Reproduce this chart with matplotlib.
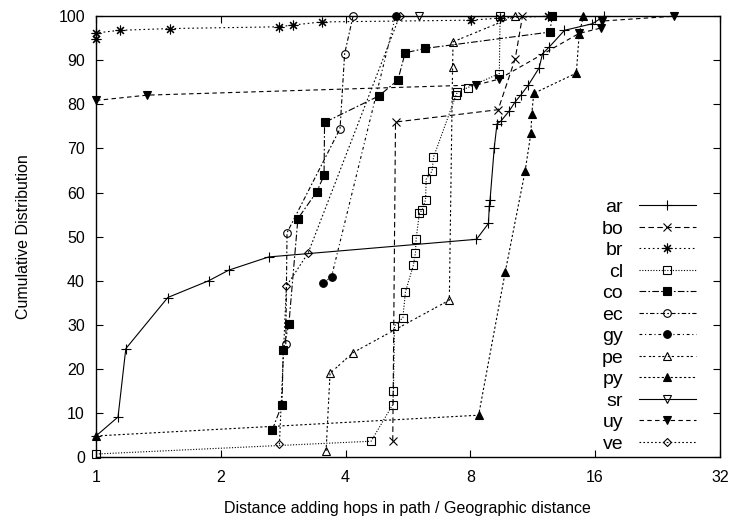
#!/usr/bin/env python3
"""
Cumulative distribution of the path stretch (hops distance / geographic distance)
per country, drawn on a log2 x axis.
"""

import matplotlib
matplotlib.use("Agg")
import matplotlib.pyplot as plt
from matplotlib.ticker import FixedLocator, FixedFormatter, NullLocator

plt.rcParams['font.family'] = ['Liberation Sans', 'DejaVu Sans']

# --- data: stretch ratio (x) vs cumulative % of paths (y) ---
ar_x = [1.0, 1.13, 1.18, 1.49, 1.87, 2.09, 2.61, 8.28, 8.85, 8.89, 8.93, 9.14,
        9.28, 9.48, 9.93, 10.27, 10.61, 11.05, 11.73, 11.95, 12.4, 13.5, 15.77, 16.82]
ar_y = [4.8, 9.1, 24.6, 36.2, 40.0, 42.4, 45.4, 49.4, 53.0, 57.0, 58.4, 70.2,
        75.6, 76.2, 78.5, 80.6, 82.2, 84.4, 88.3, 91.5, 93.0, 96.8, 98.3, 100.0]

bo_x = [5.2, 5.28, 9.34, 10.27, 10.69]
bo_y = [3.7, 76.0, 78.8, 90.4, 100.0]

br_x = [1.0, 1.0, 1.14, 1.51, 2.76, 2.99, 3.5, 8.03, 9.45, 12.35]
br_y = [94.9, 96.2, 96.8, 97.2, 97.6, 98.0, 98.7, 99.1, 99.6, 100.0]

cl_x = [1.0, 4.61, 5.2, 5.22, 5.25, 5.5, 5.58, 5.83, 5.9, 5.92, 6.03, 6.12,
        6.24, 6.26, 6.47, 6.52, 7.39, 7.45, 7.88, 9.4, 9.44]
cl_y = [0.7, 3.6, 11.9, 15.0, 29.8, 31.6, 37.5, 43.5, 46.4, 49.4, 55.4, 56.0,
        58.4, 63.0, 64.9, 68.0, 82.1, 82.8, 83.8, 87.0, 100.0]

co_x = [2.66, 2.81, 2.83, 2.92, 3.07, 3.41, 3.55, 3.56, 4.81, 5.35, 5.57, 6.23, 12.44, 12.62]
co_y = [6.1, 11.9, 24.3, 30.2, 54.1, 60.2, 63.9, 75.9, 81.9, 85.5, 91.7, 92.7, 96.4, 100.0]

ec_x = [2.87, 2.89, 3.88, 3.98, 4.17]
ec_y = [25.6, 50.9, 74.5, 91.5, 100.0]

gy_x = [3.53, 3.7, 5.28]
gy_y = [39.4, 40.9, 100.0]

pe_x = [3.59, 3.67, 4.17, 7.12, 7.25, 7.27, 10.27]
pe_y = [1.4, 19.0, 23.7, 35.6, 88.4, 94.2, 100.0]

py_x = [1.0, 8.38, 9.71, 10.85, 11.2, 11.26, 11.38, 14.42, 14.65, 15.0]
py_y = [4.8, 9.5, 41.9, 64.9, 73.4, 77.9, 82.5, 87.1, 96.0, 100.0]

sr_x = [6.03]
sr_y = [100.0]

uy_x = [1.0, 1.33, 8.26, 9.36, 14.64, 16.5, 16.6, 24.8]
uy_y = [80.9, 82.1, 84.4, 85.7, 96.1, 97.3, 98.9, 100.0]

ve_x = [2.77, 2.88, 3.25, 5.4]
ve_y = [2.9, 38.8, 46.3, 100.0]

x_ticks = [1, 2, 4, 8, 16, 32]
x_tick_labels = ['1', '2', '4', '8', '16', '32']
y_ticks = [0, 10, 20, 30, 40, 50, 60, 70, 80, 90, 100]

# label, x, y, linestyle, marker, filled, marker size
SERIES = [
    ('ar', ar_x, ar_y, '-', '+', True, 7),
    ('bo', bo_x, bo_y, (0, (5, 3)), 'x', True, 6),
    ('br', br_x, br_y, (0, (1.5, 2.5)), (8, 2, 0), True, 7),
    ('cl', cl_x, cl_y, (0, (1, 1.5)), 's', False, 5.5),
    ('co', co_x, co_y, (0, (6, 2, 1.5, 2)), 's', True, 6),
    ('ec', ec_x, ec_y, (0, (4, 2, 1.5, 2)), 'o', False, 5.5),
    ('gy', gy_x, gy_y, (0, (2.5, 2.5, 1, 2.5)), 'o', True, 5.5),
    ('pe', pe_x, pe_y, (0, (2, 1.5, 2, 3)), '^', False, 6),
    ('py', py_x, py_y, (0, (2, 2)), '^', True, 6),
    ('sr', sr_x, sr_y, '-', 'v', False, 6),
    ('uy', uy_x, uy_y, (0, (4, 3)), 'v', True, 6),
    ('ve', ve_x, ve_y, (0, (1.5, 2)), 'D', False, 4.5),
]


def plot_stretch_cdf():
    fig = plt.figure(figsize=(7.33, 5.23), dpi=100)
    ax = fig.add_axes([0.131, 0.126, 0.851, 0.843])

    for name, xs, ys, ls, mk, filled, ms in SERIES:
        ax.plot(xs, ys, color='black', linestyle=ls, linewidth=0.8,
                marker=mk, markersize=ms, markeredgewidth=0.8,
                markerfacecolor='black' if filled else 'none',
                markeredgecolor='black', label=name, clip_on=False)

    ax.set_xscale('log', base=2)
    ax.set_xlim(1, 32)
    ax.set_ylim(0, 100)
    ax.xaxis.set_major_locator(FixedLocator(x_ticks))
    ax.xaxis.set_major_formatter(FixedFormatter(x_tick_labels))
    ax.xaxis.set_minor_locator(NullLocator())
    ax.set_yticks(y_ticks)

    ax.tick_params(direction='in', length=5, width=0.8, top=True, right=True,
                   labelsize=11.5)
    ax.tick_params(axis='x', pad=9)
    ax.tick_params(axis='y', pad=8)
    for spine in ax.spines.values():
        spine.set_linewidth(1.0)

    ax.set_xlabel('Distance adding hops in path / Geographic distance', fontsize=11.5, labelpad=12)
    ax.set_ylabel('Cumulative Distribution', fontsize=11.5, labelpad=20)

    ax.legend(loc='lower right', bbox_to_anchor=(0.962, 0.01), frameon=False,
              fontsize=14, handlelength=2.95, handletextpad=0.8,
              labelspacing=0.2, markerfirst=False, borderpad=0,
              borderaxespad=0, numpoints=1)

    fig.savefig('out.png', dpi=100)


if __name__ == '__main__':
    plot_stretch_cdf()
